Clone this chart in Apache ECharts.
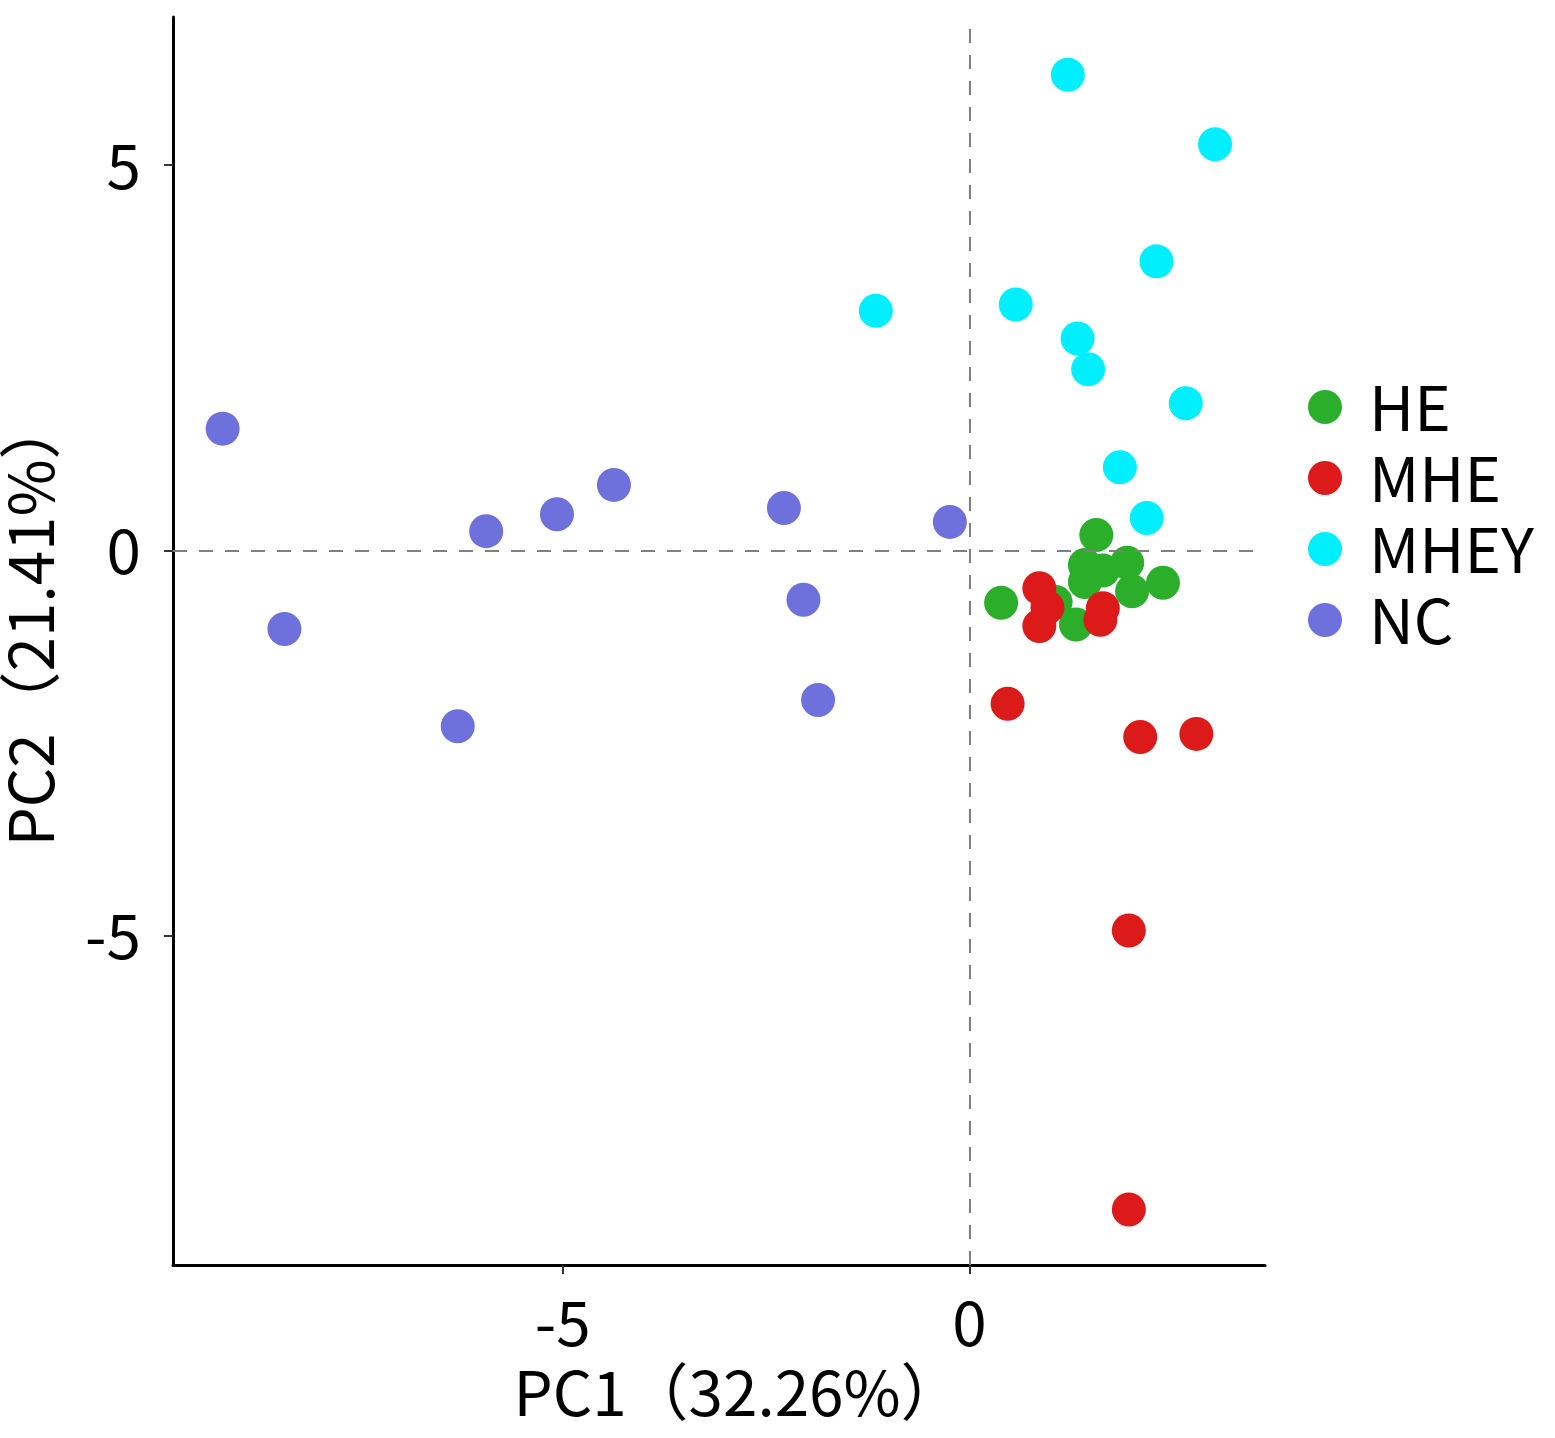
<!DOCTYPE html>
<html>
<head>
<meta charset="utf-8">
<script src="https://cdn.jsdelivr.net/npm/echarts@6/dist/echarts.min.js"></script>
<style>
html,body{margin:0;padding:0;background:#fff;}
#main{width:1555px;height:1438px;}
</style>
</head>
<body>
<div id="main"></div>
<script>
/* PCA scores per group */
var groups = ['HE', 'MHE', 'MHEY', 'NC'];
var heX = [1.56, 1.42, 1.94, 1.64, 1.42, 2.38, 2.00, 0.39, 1.06, 1.31];
var heY = [0.20, -0.19, -0.16, -0.26, -0.41, -0.42, -0.53, -0.68, -0.67, -0.96];
var mheX = [0.86, 0.96, 0.86, 1.64, 1.61, 0.47, 2.10, 2.79, 1.96, 1.96];
var mheY = [-0.49, -0.74, -0.98, -0.75, -0.90, -1.99, -2.42, -2.38, -4.93, -8.55];
var mheyX = [1.21, 3.02, 2.30, -1.15, 0.57, 1.33, 1.46, 2.66, 1.85, 2.18];
var mheyY = [6.17, 5.27, 3.75, 3.11, 3.19, 2.75, 2.35, 1.91, 1.08, 0.42];
var ncX = [-9.18, -8.42, -6.29, -5.94, -5.07, -4.37, -2.28, -2.04, -1.86, -0.24];
var ncY = [1.58, -1.02, -2.28, 0.25, 0.47, 0.85, 0.55, -0.64, -1.94, 0.37];
var xTicks = [-5, 0];
var yTicks = [-5, 0, 5];

function pairs(xs, ys){
	var out = [];
	for (var i = 0; i < xs.length; i++) {
		out.push([xs[i], ys[i]]);
	}
	return out;
}

var colors = ['#2BAF2B', '#DC1A1A', '#00EFFF', '#6E71DB'];
var font = '"Noto Sans CJK SC", "Noto Sans", sans-serif';
var fsize = 62;

var mychart = echarts.init(document.getElementById('main'));
var option = {
	animation: false,
	backgroundColor: '#fff',
	color: colors,
	grid: {
		left: 173,
		right: 290,
		top: 17,
		bottom: 173,
		containLabel: false,
		outerBoundsMode: 'none'
	},
	legend: {
		data: groups,
		orient: 'vertical',
		left: 1303,
		top: 371,
		icon: 'circle',
		itemWidth: 34,
		itemHeight: 34,
		itemGap: 9,
		textStyle: {
			color: '#000',
			fontSize: fsize,
			fontFamily: font,
			padding: [0, 0, 0, 22]
		}
	},
	xAxis: {
		type: 'value',
		min: -9.79,
		max: 3.634,
		name: 'PC1（32.26%）',
		nameLocation: 'middle',
		nameGap: 96,
		nameTextStyle: {
			color: '#000',
			fontSize: fsize,
			fontFamily: font,
			padding: [0, 0, 0, 38]
		},
		splitLine: {show: false},
		axisLine: {
			onZero: false,
			lineStyle: {color: '#000', width: 3}
		},
		axisTick: {
			customValues: xTicks,
			length: 9,
			lineStyle: {color: '#333', width: 2}
		},
		axisLabel: {
			customValues: xTicks,
			margin: 26,
			color: '#000',
			fontSize: fsize,
			fontFamily: font
		}
	},
	yAxis: {
		type: 'value',
		min: -9.27,
		max: 6.92,
		name: 'PC2（21.41%）',
		nameLocation: 'middle',
		nameRotate: 90,
		nameGap: 112,
		nameTextStyle: {
			color: '#000',
			fontSize: fsize,
			fontFamily: font,
			padding: [0, 0, 0, 38]
		},
		splitLine: {show: false},
		axisLine: {
			onZero: false,
			lineStyle: {color: '#000', width: 3}
		},
		axisTick: {
			customValues: yTicks,
			length: 9,
			lineStyle: {color: '#333', width: 2}
		},
		axisLabel: {
			customValues: yTicks,
			margin: 32,
			color: '#000',
			fontSize: fsize,
			fontFamily: font
		}
	},
	series: [{
		// zero reference lines
		type: 'scatter',
		data: [],
		z: 1,
		silent: true,
		markLine: {
			silent: true,
			symbol: ['none', 'none'],
			label: {show: false},
			lineStyle: {color: '#7f7f7f', type: [14, 12], width: 2},
			data: [{xAxis: 0}, {yAxis: 0}]
		}
	}, {
		name: 'HE',
		type: 'scatter',
		symbolSize: 34,
		data: pairs(heX, heY),
		itemStyle: {color: colors[0], opacity: 1},
		z: 3
	}, {
		name: 'MHE',
		type: 'scatter',
		symbolSize: 34,
		data: pairs(mheX, mheY),
		itemStyle: {color: colors[1], opacity: 1},
		z: 4
	}, {
		name: 'MHEY',
		type: 'scatter',
		symbolSize: 34,
		data: pairs(mheyX, mheyY),
		itemStyle: {color: colors[2], opacity: 1},
		z: 5
	}, {
		name: 'NC',
		type: 'scatter',
		symbolSize: 34,
		data: pairs(ncX, ncY),
		itemStyle: {color: colors[3], opacity: 1},
		z: 6
	}]
};
mychart.setOption(option);
</script>
</body>
</html>
